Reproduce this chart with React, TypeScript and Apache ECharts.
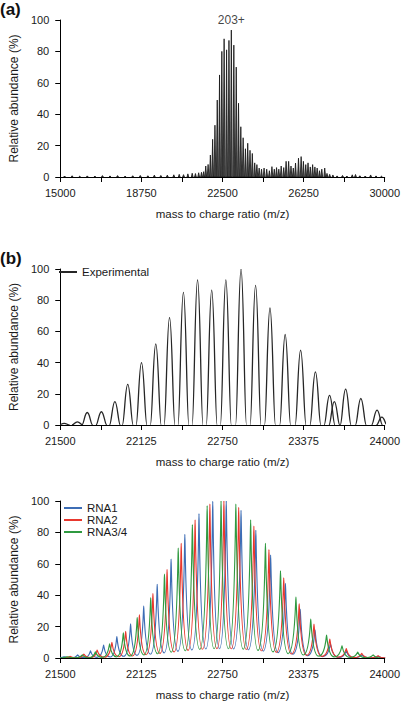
import React, { useEffect, useRef } from 'react';
import * as echarts from 'echarts';

const FONT = '"Liberation Sans", Arial, Helvetica, sans-serif';

// ---------- Panel (a): full spectrum ----------
const aCenters = [
  15200, 15550, 15900, 16250, 16600, 16950, 17300, 17650, 18000, 18350, 18700, 19050, 19350, 19650, 19950,
  20250, 20500, 20700, 20900, 21100, 21250, 21400, 21530, 21630,
  21727, 21835, 21940, 22045, 22152, 22258, 22364, 22470, 22576, 22690, 22800, 22909, 23025, 23136, 23242,
  23348, 23455, 23561, 23667, 23773, 23879, 23990, 24091, 24195, 24305, 24423, 24545, 24668, 24786, 24895,
  25000, 25105, 25214, 25332, 25441, 25559, 25668, 25773, 25877, 26014, 26136, 26241, 26350, 26455, 26559,
  26668, 26773, 26877, 26986, 27091, 27227, 27332, 27455, 27605,
  27800, 28050, 28250, 28500, 28650, 28850, 29100, 29350, 29600, 29850,
];
const aHeights = [
  0.6, 0.8, 0.5, 0.7, 0.6, 0.9, 0.7, 0.9, 0.6, 0.8, 1.0, 0.8, 1.2, 1.0, 1.2,
  1.4, 1.7, 1.5, 2.0, 2.4, 2.2, 2.7, 3.0, 3.4,
  7, 8, 14, 24, 33, 49, 65, 80, 88, 81, 87, 93.6, 84, 70, 47,
  32, 25, 18, 21.5, 17, 15, 9, 7.9, 5.7, 5, 5.7, 5, 4, 6.6, 5,
  6, 5, 7, 6, 10, 10, 7, 5.7, 8.9, 12, 13, 10, 7.9, 9, 6.4,
  7.9, 6.4, 5.7, 4, 5, 5.7, 2.3, 1.7, 1.3,
  0.7, 1.0, 0.6, 1.4, 1.6, 0.8, 0.6, 1.3, 0.7, 0.5,
];
const aAnnotation = { text: '203+', mz: 22909, value: 93.6 };
const aTickLabels = [15000, 18750, 22500, 26250, 30000];

// ---------- Panel (b): experimental zoom ----------
const bCenters = [
  21530, 21632, 21708, 21817, 21921, 22020, 22126, 22236, 22342, 22449, 22558, 22667, 22776, 22893,
  23005, 23116, 23233, 23352, 23466, 23575, 23612, 23699, 23816, 23941, 23978,
];
const bHeights = [
  1, 2, 8, 8.5, 15, 26, 40, 52, 69, 85, 93, 86.5, 93, 100,
  89.5, 75, 58, 48, 34, 19, 15, 23, 17, 9.5, 5,
];

// ---------- Panel (c): simulated RNA spectra ----------
const rna1Centers = [
  21530, 21634, 21733, 21834, 21936, 22042, 22143, 22247, 22354, 22460, 22569, 22675, 22779, 22893,
  23007, 23121, 23235, 23349, 23463, 23582, 23704, 23825, 23949,
];
const rna1Heights = [
  0.8, 2, 4.6, 8.2, 13.7, 21.8, 33, 47, 63, 78.7, 92, 99.8, 100, 94,
  81.4, 65.5, 47.6, 31, 18, 9, 4.5, 2, 1,
];
const rna2Centers = [
  21576, 21682, 21784, 21898, 22004, 22110, 22214, 22323, 22432, 22539, 22653, 22761, 22875,
  22992, 23108, 23222, 23341, 23455, 23577, 23704, 23823, 23949,
];
const rna2Heights = [
  1, 2.5, 5, 10, 17, 27.5, 41, 56.4, 73, 88, 98, 100, 96,
  84, 69, 51, 34.5, 21.6, 12, 6, 3, 1.5,
];
const rna34Centers = [
  21553, 21670, 21771, 21880, 21986, 22093, 22197, 22303, 22409, 22518, 22632, 22739, 22853,
  22967, 23081, 23197, 23316, 23430, 23552, 23671, 23792, 23911,
];
const rna34Heights = [
  0.8, 2, 4, 9, 16, 25.7, 38.4, 53.5, 70, 85, 97, 100, 98,
  88, 73, 55.6, 38.8, 24.8, 14.6, 7.8, 3.8, 2,
];
const bcTickLabels = [21500, 22125, 22750, 23375, 24000];
const yTickLabels = [0, 20, 40, 60, 80, 100];

const COLORS = { rna1: '#3d6db5', rna2: '#e8382e', rna34: '#2f9a40', exp: '#262626' };

// ---------- renderers ----------
function stickItem(_p: any, api: any) {
  const c = api.value(0);
  const h = api.value(1);
  const w = 40;
  const p0 = api.coord([c - w, 0]);
  const p1 = api.coord([c, h]);
  const p2 = api.coord([c + w, 0]);
  return {
    type: 'polygon',
    shape: { points: [p0, p1, p2] },
    style: { fill: '#5a5a5a', stroke: '#111111', lineWidth: 0.8 },
  };
}

function gaussItem(color: string) {
  return (_p: any, api: any) => {
    const c = api.value(0);
    const h = api.value(1);
    const w = 42;
    const L = api.coord([c - w, 0]);
    const P = api.coord([c, h]);
    const R = api.coord([c + w, 0]);
    const dl = P[0] - L[0];
    const dr = R[0] - P[0];
    const d =
      `M${L[0]} ${L[1]} C${L[0] + 0.38 * dl} ${L[1]} ${L[0] + 0.52 * dl} ${P[1]} ${P[0]} ${P[1]} ` +
      `C${P[0] + 0.48 * dr} ${P[1]} ${P[0] + 0.62 * dr} ${R[1]} ${R[0]} ${R[1]}`;
    return {
      type: 'path',
      shape: { pathData: d },
      style: { fill: 'none', stroke: color, lineWidth: 1.3 },
    };
  };
}

function lorentzItem(color: string) {
  return (_p: any, api: any) => {
    const c = api.value(0);
    const h = api.value(1);
    const cp = api.value(2);
    const hp = api.value(3);
    const cn = api.value(4);
    const hn = api.value(5);
    const K = 0.03;
    const L = api.coord([(cp + c) / 2, K * (hp + h)]);
    const P = api.coord([c, h]);
    const R = api.coord([(c + cn) / 2, K * (h + hn)]);
    const dl = P[0] - L[0];
    const dr = R[0] - P[0];
    const d =
      `M${L[0]} ${L[1]} C${L[0] + 0.85 * dl} ${L[1]} ${L[0] + 0.96 * dl} ${P[1]} ${P[0]} ${P[1]} ` +
      `C${P[0] + 0.04 * dr} ${P[1]} ${P[0] + 0.15 * dr} ${R[1]} ${R[0]} ${R[1]}`;
    return {
      type: 'path',
      shape: { pathData: d },
      style: { fill: 'none', stroke: color, lineWidth: 1.15 },
    };
  };
}

function pairs(cs: number[], hs: number[]) {
  return cs.map((c, i) => [c, hs[i]]);
}
function withNeighbours(cs: number[], hs: number[]) {
  return cs.map((c, i) => [
    c,
    hs[i],
    i > 0 ? cs[i - 1] : c - 110,
    i > 0 ? hs[i - 1] : 0,
    i < cs.length - 1 ? cs[i + 1] : c + 110,
    i < cs.length - 1 ? hs[i + 1] : 0,
  ]);
}

function xAxis(gridIndex: number, min: number, max: number, interval: number, labels: number[]) {
  return {
    type: 'value',
    gridIndex,
    min,
    max,
    interval,
    name: 'mass to charge ratio (m/z)',
    nameLocation: 'middle',
    nameGap: 31,
    nameTextStyle: { fontSize: 11.5, color: '#1a1a1a', fontFamily: FONT },
    axisLine: { show: true, onZero: false, lineStyle: { color: '#000', width: 1 } },
    axisTick: { show: true, inside: false, length: 5, lineStyle: { color: '#000', width: 1 } },
    axisLabel: {
      margin: 10,
      fontSize: 11,
      color: '#1a1a1a',
      fontFamily: FONT,
      showMinLabel: true,
      showMaxLabel: true,
      formatter: (v: number) => (labels.indexOf(Math.round(v * 10) / 10) >= 0 ? String(v) : ''),
    },
    splitLine: { show: false },
  };
}

function yAxis(gridIndex: number) {
  return {
    type: 'value',
    gridIndex,
    min: yTickLabels[0],
    max: yTickLabels[yTickLabels.length - 1],
    interval: 20,
    name: 'Relative abundance (%)',
    nameLocation: 'middle',
    nameGap: 36,
    nameTextStyle: { fontSize: 12, color: '#1a1a1a', fontFamily: FONT },
    axisLine: { show: true, onZero: false, lineStyle: { color: '#000', width: 1 } },
    axisTick: { show: true, inside: false, length: 5, lineStyle: { color: '#000', width: 1 } },
    axisLabel: { margin: 11, fontSize: 11, color: '#1a1a1a', fontFamily: FONT },
    splitLine: { show: false },
  };
}

const option: any = {
  animation: false,
  backgroundColor: '#ffffff',
  textStyle: { fontFamily: FONT },
  title: [
    { text: '(a)', left: 0, top: 1, padding: 0, textStyle: { fontSize: 17, fontWeight: 'bold', color: '#111', fontFamily: FONT } },
    { text: '(b)', left: 0, top: 250, padding: 0, textStyle: { fontSize: 17, fontWeight: 'bold', color: '#111', fontFamily: FONT } },
  ],
  grid: [
    { left: 56, top: 20, width: 330, height: 157 },
    { left: 56, top: 269, width: 329, height: 156 },
    { left: 56, top: 501, width: 329, height: 157 },
  ],
  xAxis: [
    xAxis(0, 15000, 30000, 1875, aTickLabels),
    xAxis(1, 21500, 24000, 312.5, bcTickLabels),
    xAxis(2, 21500, 24000, 312.5, bcTickLabels),
  ],
  yAxis: [yAxis(0), yAxis(1), yAxis(2)],
  legend: [
    {
      data: [{ name: 'Experimental', icon: 'rect' }],
      left: 59,
      top: 266,
      padding: 0,
      itemWidth: 18,
      itemHeight: 2,
      selectedMode: false,
      textStyle: { fontSize: 11.5, color: '#1a1a1a', fontFamily: FONT },
    },
    {
      data: [
        { name: 'RNA1', icon: 'rect' },
        { name: 'RNA2', icon: 'rect' },
        { name: 'RNA3/4', icon: 'rect' },
      ],
      orient: 'vertical',
      left: 64,
      top: 502,
      padding: 0,
      itemGap: 0,
      itemWidth: 18,
      itemHeight: 2,
      selectedMode: false,
      textStyle: { fontSize: 11.5, color: '#1a1a1a', fontFamily: FONT },
    },
  ],
  series: [
    {
      name: 'Spectrum',
      type: 'custom',
      xAxisIndex: 0,
      yAxisIndex: 0,
      clip: true,
      renderItem: stickItem,
      encode: { x: 0, y: 1 },
      itemStyle: { color: '#333' },
      data: pairs(aCenters, aHeights),
    },
    {
      name: 'annotation',
      type: 'scatter',
      xAxisIndex: 0,
      yAxisIndex: 0,
      symbolSize: 1,
      itemStyle: { color: 'rgba(0,0,0,0)' },
      label: {
        show: true,
        position: 'top',
        distance: 4,
        formatter: aAnnotation.text,
        fontSize: 12,
        color: '#111',
        fontFamily: FONT,
      },
      data: [[aAnnotation.mz, aAnnotation.value]],
    },
    {
      name: 'Experimental',
      type: 'custom',
      xAxisIndex: 1,
      yAxisIndex: 1,
      clip: true,
      renderItem: gaussItem(COLORS.exp),
      encode: { x: 0, y: 1 },
      itemStyle: { color: COLORS.exp },
      data: pairs(bCenters, bHeights),
    },
    {
      name: 'RNA1',
      type: 'custom',
      xAxisIndex: 2,
      yAxisIndex: 2,
      clip: true,
      renderItem: lorentzItem(COLORS.rna1),
      encode: { x: 0, y: 1 },
      itemStyle: { color: COLORS.rna1 },
      data: withNeighbours(rna1Centers, rna1Heights),
    },
    {
      name: 'RNA2',
      type: 'custom',
      xAxisIndex: 2,
      yAxisIndex: 2,
      clip: true,
      renderItem: lorentzItem(COLORS.rna2),
      encode: { x: 0, y: 1 },
      itemStyle: { color: COLORS.rna2 },
      data: withNeighbours(rna2Centers, rna2Heights),
    },
    {
      name: 'RNA3/4',
      type: 'custom',
      xAxisIndex: 2,
      yAxisIndex: 2,
      clip: true,
      renderItem: lorentzItem(COLORS.rna34),
      encode: { x: 0, y: 1 },
      itemStyle: { color: COLORS.rna34 },
      data: withNeighbours(rna34Centers, rna34Heights),
    },
  ],
};

export default function App() {
  const ref = useRef<HTMLDivElement>(null);
  useEffect(() => {
    if (!ref.current) return;
    const chart = echarts.init(ref.current, null, { renderer: 'svg' });
    chart.setOption(option);
    return () => chart.dispose();
  }, []);
  return (
    <div
      ref={ref}
      style={{ position: 'fixed', left: 0, top: 0, width: 403, height: 703, background: '#fff' }}
    />
  );
}
